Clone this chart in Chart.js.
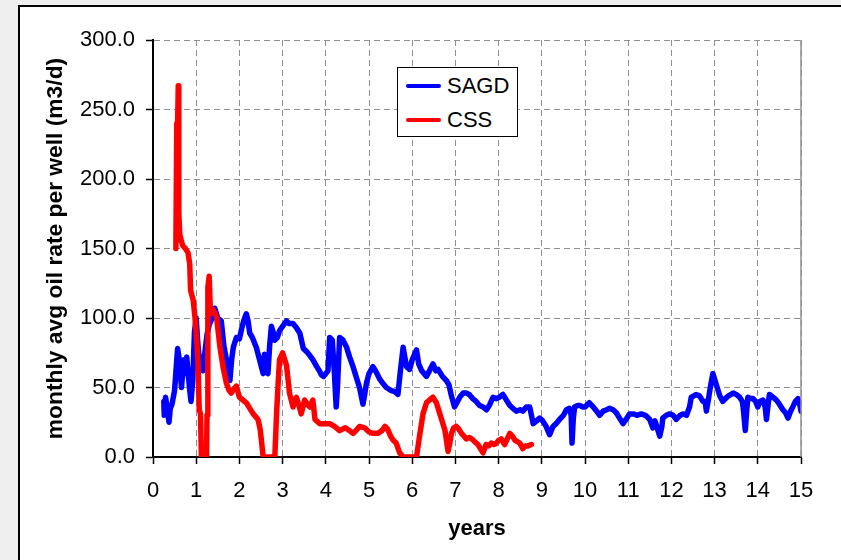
<!DOCTYPE html>
<html>
<head>
<meta charset="utf-8">
<script src="https://cdn.jsdelivr.net/npm/chart.js@4/dist/chart.umd.min.js"></script>
<style>
  html, body { margin: 0; padding: 0; }
  #page { position: relative; width: 841px; height: 560px; overflow: hidden; background: #efefef; }
  #sheet { position: absolute; left: 18px; top: 5px; width: 900px; height: 600px; background: #fff;
           border-left: 2px solid #000; border-top: 2px solid #000; }
  #chart { position: absolute; left: 0; top: 0; }
  #legend { position: absolute; left: 397px; top: 67px; width: 119px; height: 68px; background: #fff;
            border: 1px solid #000; font-family: "Liberation Sans", Arial, sans-serif; font-size: 22px; color: #000; }
  .item { position: absolute; left: 0; height: 26px; line-height: 26px; }
  .swatch { position: absolute; left: 8px; top: 11px; width: 35px; height: 4px; border-radius: 2px; }
  .label { position: absolute; left: 49px; top: 0; white-space: nowrap; }
</style>
</head>
<body>
<div id="page">
  <div id="sheet"></div>
  <canvas id="chart" width="841" height="560"></canvas>
  <div id="legend">
    <div class="item" style="top:5px"><div class="swatch" style="background:#0000ff"></div><span class="label">SAGD</span></div>
    <div class="item" style="top:39px"><div class="swatch" style="background:#ff0000"></div><span class="label">CSS</span></div>
  </div>
</div>
<script>
// Monthly average oil rate per well (m3/d) versus producing time (years)
const sagdYears = [0.25,0.26,0.29,0.33,0.37,0.40,0.44,0.50,0.55,0.57,0.60,0.63,0.66,0.69,0.72,0.75,0.78,0.82,0.85,0.88,0.92,0.96,1.00,1.03,1.07,1.12,1.16,1.20,1.25,1.30,1.37,1.43,1.50,1.58,1.64,1.70,1.75,1.78,1.82,1.86,1.93,2.00,2.05,2.10,2.16,2.20,2.24,2.30,2.39,2.45,2.50,2.55,2.58,2.62,2.66,2.70,2.74,2.78,2.82,2.88,2.93,3.00,3.09,3.15,3.24,3.32,3.40,3.48,3.55,3.63,3.70,3.79,3.85,3.90,3.95,4.00,4.05,4.09,4.15,4.20,4.24,4.27,4.32,4.40,4.48,4.55,4.63,4.70,4.78,4.86,4.90,4.94,5.00,5.09,5.15,5.25,5.32,5.40,5.50,5.60,5.67,5.72,5.79,5.84,5.87,5.94,6.00,6.10,6.15,6.22,6.33,6.40,6.48,6.55,6.60,6.70,6.79,6.85,6.90,6.98,7.05,7.10,7.18,7.25,7.32,7.40,7.48,7.56,7.64,7.72,7.80,7.87,7.95,8.02,8.10,8.16,8.26,8.33,8.41,8.50,8.56,8.64,8.72,8.76,8.80,8.88,8.95,9.02,9.10,9.18,9.26,9.33,9.41,9.50,9.57,9.64,9.68,9.70,9.73,9.76,9.82,9.88,9.95,10.00,10.10,10.19,10.27,10.34,10.42,10.50,10.57,10.65,10.72,10.80,10.88,10.95,11.03,11.12,11.20,11.30,11.40,11.50,11.57,11.62,11.68,11.73,11.78,11.80,11.88,11.96,12.04,12.11,12.20,12.28,12.35,12.42,12.46,12.52,12.57,12.65,12.73,12.78,12.81,12.86,12.89,12.93,12.96,13.00,13.04,13.08,13.12,13.19,13.25,13.32,13.43,13.50,13.58,13.64,13.66,13.71,13.74,13.77,13.83,13.89,13.95,14.00,14.05,14.12,14.17,14.20,14.24,14.27,14.35,14.43,14.50,14.58,14.64,14.70,14.76,14.81,14.87,14.93,14.97,15.00];
const sagdRate  = [40,30,43,35,25,35,38,48,70,78,72,60,50,62,70,60,72,58,48,40,55,90,100,85,70,72,62,75,88,95,100,107,100,98,80,70,62,55,70,79,86,85,92,98,103,98,89,86,79,72,66,60,74,62,60,80,94,90,84,86,91,94,98,96,96,93,89,78,76,73,70,65,62,59,58,60,62,86,84,60,36,50,86,84,79,72,65,58,50,38,45,53,60,65,62,56,53,50,48,47,45,60,79,70,65,63,70,77,67,62,58,62,67,62,63,58,55,52,45,36,40,43,46,46,45,42,40,37,36,34,38,43,42,43,45,42,37,35,33,34,33,36,36,30,24,26,28,26,22,16,22,24,27,30,34,35,30,10,28,36,37,37,36,36,39,36,33,30,33,34,35,34,32,28,24,27,31,31,30,31,30,27,21,26,20,15,22,28,30,31,30,27,30,31,30,36,43,44,45,44,40,40,33,42,48,55,60,56,52,48,44,40,42,44,46,45,43,40,36,19,32,43,42,42,40,36,40,41,36,27,38,45,43,41,38,34,32,28,33,36,40,42,38,33];

const cssYears = [0.53,0.55,0.57,0.585,0.595,0.60,0.62,0.66,0.69,0.75,0.81,0.85,0.87,0.93,0.97,1.00,1.04,1.07,1.10,1.12,1.24,1.25,1.27,1.30,1.33,1.39,1.47,1.55,1.62,1.70,1.76,1.81,1.87,1.93,2.00,2.08,2.16,2.24,2.32,2.43,2.48,2.51,2.55,2.82,2.86,2.90,2.93,3.00,3.05,3.09,3.16,3.24,3.32,3.38,3.43,3.51,3.57,3.63,3.70,3.75,3.86,4.00,4.09,4.20,4.32,4.45,4.55,4.63,4.70,4.78,4.90,5.00,5.09,5.20,5.30,5.37,5.43,5.50,5.56,5.63,5.71,5.79,6.10,6.17,6.25,6.33,6.40,6.48,6.56,6.64,6.70,6.76,6.83,6.87,6.91,6.96,7.02,7.08,7.14,7.20,7.25,7.32,7.38,7.45,7.52,7.58,7.64,7.71,7.77,7.83,7.90,7.95,8.00,8.06,8.10,8.14,8.20,8.26,8.32,8.38,8.44,8.49,8.56,8.62,8.68,8.76];
const cssRate  = [150,240,240,267,267,175,160,155,152,150,147,139,120,113,101,89,70,34,31,0,0,30,122,130,103,106,101,79,65,53,48,46,49,51,43,41,39,35,31,27,20,12,0,0,31,55,70,75,70,66,46,36,43,37,31,41,38,36,41,27,24,24,24,22,19,21,19,17,19,22,21,18,17,17,19,22,20,15,12,10,3,0,0,15,31,39,41,43,39,31,25,19,4,10,17,21,22,20,17,15,13,14,13,11,9,6,3,9,8,10,9,10,12,13,11,9,13,17,15,12,11,10,6,8,8,9];

const xTicks = [0,1,2,3,4,5,6,7,8,9,10,11,12,13,14,15];
const yTicks = [0,50,100,150,200,250,300];

const toPoints = (xs, ys) => xs.map((x, i) => ({ x: x, y: ys[i] }));
const FONT = '"Liberation Sans", Arial, sans-serif';
const gridColor = ctx => (ctx.tick && ctx.tick.value === 0) ? 'rgba(0,0,0,0)' : '#8f8f8f';

// solid grey frame line along the right side of the plot area
const rightFrame = {
  id: 'rightFrame',
  afterDatasetsDraw(chart) {
    const { ctx, chartArea: a } = chart;
    ctx.save();
    ctx.strokeStyle = '#8f8f8f';
    ctx.lineWidth = 1.5;
    ctx.beginPath();
    ctx.moveTo(a.right, a.top);
    ctx.lineTo(a.right, a.bottom);
    ctx.stroke();
    ctx.restore();
  }
};

new Chart(document.getElementById('chart'), {
  type: 'line',
  data: {
    datasets: [
      { label: 'SAGD', data: toPoints(sagdYears, sagdRate), borderColor: '#0000ff', order: 1 },
      { label: 'CSS', data: toPoints(cssYears, cssRate), borderColor: '#ff0000', order: 0 }
    ]
  },
  options: {
    responsive: false,
    animation: false,
    events: [],
    layout: { padding: { top: 40, right: 40, left: 0, bottom: 0 } },
    elements: {
      line: { borderWidth: 5.5, tension: 0, borderJoinStyle: 'round', borderCapStyle: 'round', fill: false },
      point: { radius: 0 }
    },
    plugins: { legend: { display: false }, tooltip: { enabled: false } },
    scales: {
      x: {
        type: 'linear', min: 0, max: 15,
        afterBuildTicks: s => { s.ticks = xTicks.map(v => ({ value: v })); },
        afterFit: s => { s.height = 103; },
        ticks: { font: { family: FONT, size: 22 }, color: '#000', padding: 14, maxRotation: 0, autoSkip: false },
        grid: { color: gridColor, lineWidth: 1, tickLength: 7, tickColor: '#000', tickWidth: 1.5, tickBorderDash: [] },
        border: { color: '#000', width: 2, dash: [6, 4] },
        title: { display: true, text: 'years', color: '#000', font: { family: FONT, size: 22, weight: 'bold' }, padding: { top: 0, bottom: 18 } }
      },
      y: {
        type: 'linear', min: 0, max: 300,
        afterBuildTicks: s => { s.ticks = yTicks.map(v => ({ value: v })); },
        afterFit: s => { s.width = 153; },
        ticks: { font: { family: FONT, size: 22 }, color: '#000', padding: 11, callback: v => v.toFixed(1) },
        grid: { color: gridColor, lineWidth: 1, tickLength: 7, tickColor: '#000', tickWidth: 1.5, tickBorderDash: [] },
        border: { color: '#000', width: 2, dash: [6, 4] },
        title: { display: true, text: 'monthly avg oil rate per well (m3/d)', color: '#000', font: { family: FONT, size: 22.8, weight: 'bold' }, padding: { top: 42, bottom: 0 } }
      }
    }
  },
  plugins: [rightFrame]
});
</script>
</body>
</html>
